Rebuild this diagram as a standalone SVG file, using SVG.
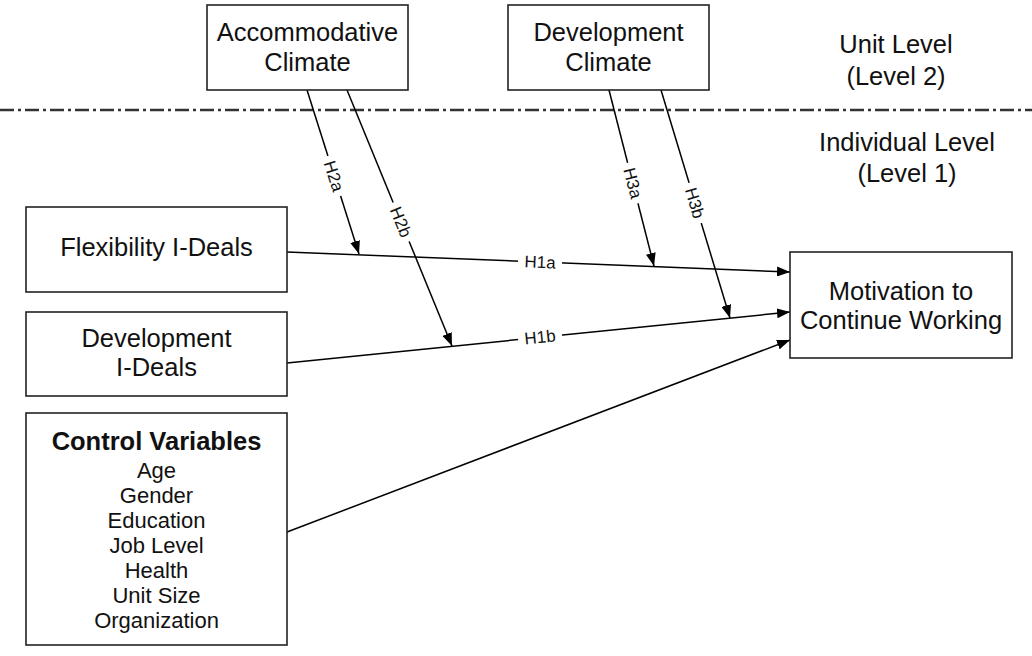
<svg xmlns="http://www.w3.org/2000/svg" width="1032" height="656" viewBox="0 0 1032 656">
<defs>
<marker id="arr" markerUnits="userSpaceOnUse" markerWidth="13" markerHeight="10" refX="13" refY="5" orient="auto">
<path d="M0,0 L13,5 L0,10 z" fill="#000"/>
</marker>
<style>
.box{fill:#fff;stroke:#222;stroke-width:1.6}
.t{font-family:"Liberation Sans",Arial,sans-serif;font-size:25.5px;fill:#111;text-anchor:middle}
.s{font-family:"Liberation Sans",Arial,sans-serif;font-size:22px;fill:#111;text-anchor:middle}
.b{font-weight:bold;font-size:25.5px}
.c{fill:none;stroke:#000;stroke-width:1.5}
.lbl{font-family:"Liberation Sans",Arial,sans-serif;font-size:17px;fill:#111;text-anchor:middle}
.bg{fill:#fff}
</style>
</defs>
<rect width="1032" height="656" fill="#fff"/>
<line x1="0" y1="110" x2="1032" y2="110" stroke="#333" stroke-width="2.5" stroke-dasharray="14 4 3 4"/>
<g id="levels">
<text class="t" x="896" y="53">Unit Level</text>
<text class="t" x="896" y="85">(Level 2)</text>
<text class="t" x="907" y="151">Individual Level</text>
<text class="t" x="907" y="182">(Level 1)</text>
</g>
<g id="connectors">
<line class="c" x1="287" y1="252" x2="790" y2="272" marker-end="url(#arr)"/>
<line class="c" x1="287" y1="363" x2="790" y2="312" marker-end="url(#arr)"/>
<line class="c" x1="287" y1="532" x2="790" y2="340" marker-end="url(#arr)"/>
<line class="c" x1="307" y1="90" x2="359" y2="254" marker-end="url(#arr)"/>
<line class="c" x1="347" y1="90" x2="452" y2="346" marker-end="url(#arr)"/>
<line class="c" x1="609" y1="90" x2="654" y2="266" marker-end="url(#arr)"/>
<line class="c" x1="661" y1="90" x2="730" y2="318" marker-end="url(#arr)"/>
<g transform="translate(540,262) rotate(2.3)"><rect class="bg" x="-22" y="-8" width="44" height="16"/><text class="lbl" y="6">H1a</text></g>
<g transform="translate(540,337) rotate(-5.8)"><rect class="bg" x="-22" y="-8" width="44" height="16"/><text class="lbl" y="6">H1b</text></g>
<g transform="translate(334,176) rotate(72.3)"><rect class="bg" x="-21" y="-8" width="42" height="16"/><text class="lbl" y="6">H2a</text></g>
<g transform="translate(401,222) rotate(67.8)"><rect class="bg" x="-21" y="-8" width="42" height="16"/><text class="lbl" y="6">H2b</text></g>
<g transform="translate(633,183) rotate(75.6)"><rect class="bg" x="-21" y="-8" width="42" height="16"/><text class="lbl" y="6">H3a</text></g>
<g transform="translate(695,203) rotate(73.1)"><rect class="bg" x="-21" y="-8" width="42" height="16"/><text class="lbl" y="6">H3b</text></g>
</g>
<g id="accommodative">
<rect class="box" x="207" y="5" width="201" height="85"/>
<text class="t" x="307.5" y="41">Accommodative</text>
<text class="t" x="307.5" y="71">Climate</text>
</g>
<g id="devclimate">
<rect class="box" x="508" y="5" width="201" height="85"/>
<text class="t" x="608.5" y="41">Development</text>
<text class="t" x="608.5" y="71">Climate</text>
</g>
<g id="flex">
<rect class="box" x="26" y="207" width="261" height="85"/>
<text class="t" x="156.5" y="256">Flexibility I-Deals</text>
</g>
<g id="devideals">
<rect class="box" x="26" y="312" width="261" height="84"/>
<text class="t" x="156.5" y="347">Development</text>
<text class="t" x="156.5" y="376">I-Deals</text>
</g>
<g id="control">
<rect class="box" x="26" y="413" width="261" height="232"/>
<text class="t b" x="156.5" y="450">Control Variables</text>
<text class="s" x="156.5" y="478">Age</text>
<text class="s" x="156.5" y="503">Gender</text>
<text class="s" x="156.5" y="528">Education</text>
<text class="s" x="156.5" y="553">Job Level</text>
<text class="s" x="156.5" y="578">Health</text>
<text class="s" x="156.5" y="603">Unit Size</text>
<text class="s" x="156.5" y="628">Organization</text>
</g>
<g id="motivation">
<rect class="box" x="790" y="252" width="222" height="106"/>
<text class="t" x="901" y="300">Motivation to</text>
<text class="t" x="901" y="329">Continue Working</text>
</g>
</svg>
